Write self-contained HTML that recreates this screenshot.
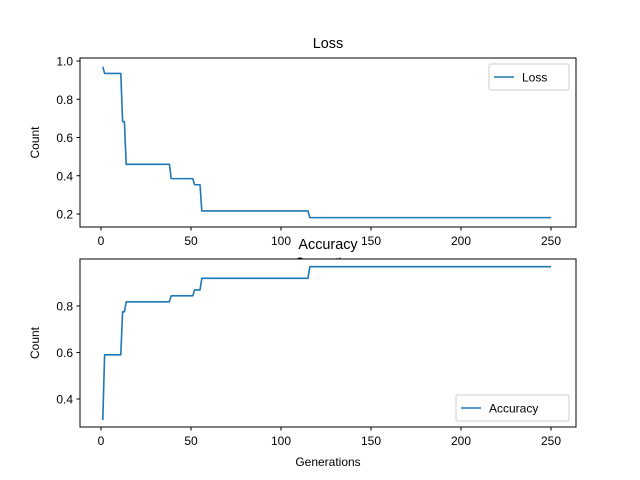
<!DOCTYPE html>
<html><head><meta charset="utf-8"><style>
body{margin:0;background:#fff}
svg{font-family:"Liberation Sans","DejaVu Sans",sans-serif;display:block}
</style></head><body>
<svg id="chart" width="640" height="480">
<rect width="640" height="480" fill="#fff"/>
</svg>
<script>
const xTicks=[0,50,100,150,200,250];
const lossTicks=[0.2,0.4,0.6,0.8,1.0];
const accTicks=[0.4,0.6,0.8];
const lossGen=[1,2,11,12,13,14,38,39,51,52,55,56,115,116,250];
const lossVal=[0.97,0.935,0.935,0.683,0.683,0.46,0.46,0.385,0.385,0.353,0.353,0.216,0.216,0.181,0.181];
const accGen=[1,2,11,12,13,14,38,39,51,52,55,56,115,116,250];
const accVal=[0.31,0.59,0.59,0.775,0.775,0.818,0.818,0.844,0.844,0.869,0.869,0.919,0.919,0.969,0.969];

const NS="http://www.w3.org/2000/svg";
const svg=document.getElementById('chart');
function el(t,a,p){const e=document.createElementNS(NS,t);for(const k in a)e.setAttribute(k,a[k]);(p||svg).appendChild(e);return e;}
const xs=g=>101+(g-0)*1.8;

function panel(name,top,bottom,yScale,yTicks,gens,vals,title,label,legendBox){
  const g=el('g',{});
  
  
  el('rect',{x:80,y:top,width:496,height:bottom-top,fill:'#fff'},g);
  const d=gens.map((x,i)=>(i?'L':'M')+xs(x).toFixed(2)+','+yScale(vals[i]).toFixed(2)).join(' ');
  const line=el('path',{d:d,fill:'none',stroke:'#1f77b4','stroke-width':1.6,'stroke-linejoin':'round'},g);
  
  
  el('rect',{x:80,y:top,width:496,height:bottom-top,fill:'none',stroke:'#000','stroke-width':1},g);
  xTicks.forEach(t=>{
    el('line',{x1:xs(t),x2:xs(t),y1:bottom,y2:bottom+3.5,stroke:'#000'},g);
    const tx=el('text',{x:xs(t),y:bottom+18,'font-size':12,'text-anchor':'middle'},g);tx.textContent=t;
    
    
  });
  yTicks.forEach(t=>{
    const y=yScale(t);
    el('line',{x1:76.5,x2:80,y1:y,y2:y,stroke:'#000'},g);
    const tx=el('text',{x:73,y:y+4.5,'font-size':12,'text-anchor':'end'},g);tx.textContent=t.toFixed(1);
    
    
  });
  const yl=el('text',{x:0,y:0,'font-size':12,'text-anchor':'middle',transform:`translate(39,${(top+bottom)/2}) rotate(-90)`},g);
  yl.textContent='Count';
  
  
  const xl=el('text',{x:328,y:bottom+39,'font-size':12,'text-anchor':'middle'},g);
  xl.textContent='Generations';
  
  
  const ti=el('text',{x:328,y:top-10,'font-size':14.4,'text-anchor':'middle'},g);
  ti.textContent=title;
  
  
  const lg=el('g',{},g);
  
  
  const [lx,ly,lw,lh]=legendBox;
  el('rect',{x:lx,y:ly,width:lw,height:lh,rx:2,fill:'#fff','fill-opacity':0.8,stroke:'#ccc'},lg);
  el('line',{x1:lx+5,x2:lx+25,y1:ly+lh/2,y2:ly+lh/2,stroke:'#1f77b4','stroke-width':1.5},lg);
  const lt=el('text',{x:lx+33,y:ly+lh/2+4.5,'font-size':12},lg);lt.textContent=label;
}
panel('loss',58,227,v=>214-(v-0.2)*191.25,lossTicks,lossGen,lossVal,'Loss','Loss',[489,64,80,26]);
panel('accuracy',259,427,v=>399-(v-0.4)*232.5,accTicks,accGen,accVal,'Accuracy','Accuracy',[456,395,113,26]);
</script>
</body></html>
